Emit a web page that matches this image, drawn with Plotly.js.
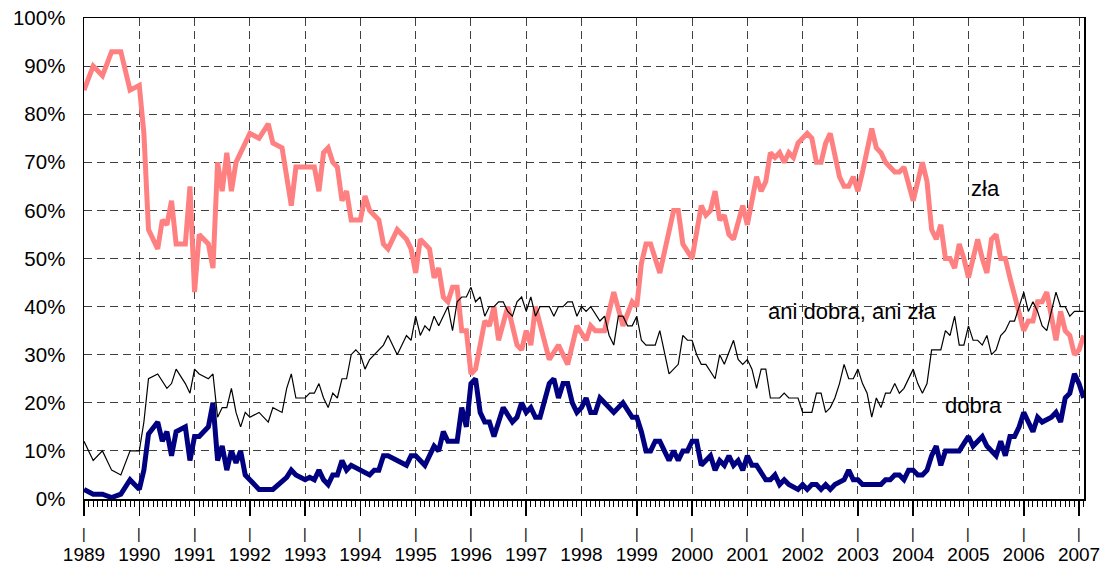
<!DOCTYPE html>
<html>
<head>
<meta charset="utf-8">
<script src="https://cdn.plot.ly/plotly-3.0.1.min.js"></script>
<style>html,body{margin:0;padding:0;background:#fff;}#chart{width:1101px;height:565px;}</style>
</head>
<body>
<div id="chart"></div>
<script>
// Month offsets from January 1989 and values (%) for each series
const zlaMonths = [0,2,4,6,8,10,12,13,14,16,17,18,19,20,22,23,24,25,27,28,29,30,31,32,33,36,38,40,41,43,45,46,50,51,52,53,54,55,56,57,58,60,61,62,64,65,66,68,70,71,72,73,75,76,77,78,79,80,81,82,83,84,85,87,88,89,90,91,92,94,95,96,97,98,99,101,103,105,107,109,110,111,113,115,117,119,120,121,122,123,125,128,129,130,132,134,135,136,137,138,139,140,141,143,144,146,147,148,149,150,151,152,153,154,155,156,157,158,159,160,161,162,163,164,165,166,167,168,169,170,171,172,173,174,175,176,177,178,180,182,183,184,185,186,187,188,189,190,191,192,193,194,195,196,197,198,199,200,201,202,204,205,206,207,208,209,210,211,212,213,214,215,216,217];
const zlaValues = [85,90,88,93,93,85,86,76,56,52,58,57,62,53,53,65,43,55,53,48,70,64,72,64,70,76,75,78,74,73,61,69,69,64,72,73,70,69,62,64,58,58,63,60,58,53,52,56,54,52,47,54,52,46,48,42,41,44,44,35,35,26,27,37,36,40,33,37,40,32,31,35,32,40,36,29,32,28,36,33,36,35,35,43,36,41,40,49,53,53,47,60,60,53,50,61,59,60,64,58,59,55,54,61,57,67,64,66,72,71,72,70,72,71,74,75,76,75,70,70,74,76,71,67,65,65,67,64,68,72,77,73,72,70,69,68,68,69,62,70,66,56,54,57,50,50,48,53,50,46,50,54,50,47,54,55,50,50,46,42,35,37,37,41,41,43,38,33,39,35,34,30,31,34];

const aniMonths = [0,2,4,6,8,10,12,13,14,16,18,19,20,22,23,24,25,27,28,29,30,31,32,33,34,35,36,38,40,41,43,44,45,46,48,49,50,51,52,53,54,55,56,57,58,59,60,61,62,64,65,66,68,70,71,72,73,74,75,76,77,79,80,81,82,83,84,85,86,87,88,89,90,91,92,93,94,95,96,97,98,99,101,102,103,104,105,106,107,108,109,110,112,113,114,115,116,117,118,119,120,121,122,124,125,127,129,130,131,132,133,134,135,137,138,139,141,142,143,144,145,146,147,148,149,151,152,153,155,156,158,159,160,161,162,163,164,165,166,167,168,169,170,171,172,173,174,175,176,177,178,180,181,182,183,184,186,187,188,189,190,191,192,193,194,195,196,197,198,199,200,201,202,203,204,205,206,207,208,209,211,212,213,214,215,216,217];
const aniValues = [12,8,10,6,5,10,10,16,25,26,23,24,27,24,22,27,26,25,26,17,19,19,23,18,15,18,17,18,16,19,18,23,26,21,21,22,22,24,21,19,22,21,25,25,30,31,30,27,29,31,32,34,30,34,33,38,34,36,35,38,36,40,35,41,42,42,44,41,42,38,40,40,41,41,39,38,41,42,39,42,38,40,40,38,40,40,41,41,38,40,39,40,37,38,34,32,38,38,36,36,38,33,32,32,35,26,28,34,33,33,30,28,28,25,30,28,33,29,28,29,27,23,27,27,21,21,22,21,21,18,18,22,22,18,19,21,24,28,25,25,27,24,22,17,21,19,22,22,24,22,23,27,24,22,24,31,31,35,34,38,32,32,36,33,33,32,34,30,31,34,35,37,37,40,43,39,41,39,36,35,43,40,40,38,39,39,39];

const dobraMonths = [0,2,4,6,8,10,12,13,14,16,17,18,19,20,22,23,24,25,27,28,29,30,31,32,33,34,35,37,38,41,43,44,45,46,48,49,50,51,52,53,54,55,56,57,58,60,62,63,64,65,66,68,70,71,72,74,76,77,78,79,81,82,83,84,85,86,87,88,89,91,93,94,95,96,97,98,99,101,102,103,104,105,106,107,108,109,110,111,112,113,115,117,119,120,121,122,123,124,125,126,127,128,129,130,131,132,133,134,136,137,138,139,140,141,142,143,144,145,146,148,149,150,151,152,153,155,156,157,158,159,160,161,162,163,164,165,166,167,168,169,173,174,175,176,177,178,179,180,181,182,183,184,185,186,187,188,190,191,192,193,194,195,196,197,198,199,200,201,202,203,204,205,206,207,208,210,211,212,213,214,215,216,217];
const dobraValues = [2,1,1,0.3,1,4,2,6,13.5,16,12,14,9,14,15,8,13,13,15,20,8,11,6,10,7.5,10,5,3,2,2,3.5,4.5,6,5,4,4.5,4,6,4,3,5,5,8,6,7,6,5,6,6,9,9,8,7,9,9,7,11,10,14,12,12,19,15,24,25,18,16,16,13,19,16,17,20,18,19,17,17,24,25,21,24,24,20,18,19,21,18,18,21,20,18,20,17,17,14,10,10,12,12,10,8,10,8,10,10,12,12,7,9,6,8,7,9,7,8,6,9,7,7,4,4,5,3,4,3,2,3,2,3,3,2,3,2,3,3.5,4,6,4,4,3,3,4,4,5,5,4,6,6,5,5,6,9,11,7,10,10,10,11.5,13,11,12,13,11,10,9,12,9,13,13,15,18,16,14,17,16,17,18,16,21,22,26,24,21];

const startYear = 1989;
const endX = 2007.09;
const years = [1989,1990,1991,1992,1993,1994,1995,1996,1997,1998,1999,2000,2001,2002,2003,2004,2005,2006,2007];
const seriesLabels = ['zła', 'ani dobra, ani zła', 'dobra'];

const toYear = ms => ms.map(m => startYear + m / 12);

const traces = [
  {x: toYear(zlaMonths), y: zlaValues, name: seriesLabels[0], type: 'scatter', mode: 'lines',
   line: {color: '#FF8080', width: 5, shape: 'linear'}, hoverinfo: 'x+y'},
  {x: toYear(dobraMonths), y: dobraValues, name: seriesLabels[2], type: 'scatter', mode: 'lines',
   line: {color: '#000080', width: 5, shape: 'linear'}, hoverinfo: 'x+y'},
  {x: toYear(aniMonths), y: aniValues, name: seriesLabels[1], type: 'scatter', mode: 'lines',
   line: {color: '#000000', width: 1.2, shape: 'linear'}, hoverinfo: 'x+y'}
];

const font = 'Liberation Sans, Arial, sans-serif';
const annFont = {family: font, size: 22, color: '#000'};

// small bar marks below each year tick (decoration)
const barMarks = years.map(yr => ({
  x: yr, xref: 'x', y: -0.072, yref: 'paper', text: '|', showarrow: false,
  xanchor: 'center', yanchor: 'middle', font: {family: font, size: 14, color: '#000'}
}));

const layout = {
  width: 1101, height: 565,
  margin: {l: 84, r: 17, t: 18, b: 66, pad: 0},
  paper_bgcolor: '#fff', plot_bgcolor: '#fff',
  showlegend: false,
  font: {family: font, color: '#000'},
  xaxis: {
    type: 'linear', range: [startYear, endX],
    tickvals: years, ticktext: years.map(String),
    ticks: 'outside', ticklen: 15, tickwidth: 1.5, tickcolor: '#000',
    minor: {dtick: 1/12, tick0: 1989, ticks: 'outside', ticklen: 6, tickwidth: 1, tickcolor: '#000', showgrid: false},
    showgrid: true, gridcolor: '#404040', gridwidth: 1, griddash: '8px,5px',
    showline: true, linecolor: '#000', linewidth: 1.5, mirror: true,
    zeroline: false, tickfont: {family: font, size: 19, color: '#000'},
    ticklabelstandoff: 23, fixedrange: true
  },
  yaxis: {
    range: [0, 100], tick0: 0, dtick: 10, ticksuffix: '%',
    ticks: '', showgrid: true, gridcolor: '#404040', gridwidth: 1, griddash: '8px,5px',
    showline: true, linecolor: '#000', linewidth: 1.5, mirror: true,
    zeroline: false, tickfont: {family: font, size: 20.5, color: '#000'},
    ticklabelstandoff: 13, fixedrange: true
  },
  annotations: [
    {x: 2005.31, y: 64.5, xref: 'x', yref: 'y', text: seriesLabels[0], showarrow: false, font: annFont},
    {x: 2002.89, y: 38.9, xref: 'x', yref: 'y', text: seriesLabels[1], showarrow: false, font: annFont},
    {x: 2005.09, y: 19.5, xref: 'x', yref: 'y', text: seriesLabels[2], showarrow: false, font: annFont}
  ].concat(barMarks)
};

Plotly.newPlot('chart', traces, layout, {displayModeBar: false, staticPlot: true});
</script>
</body>
</html>
